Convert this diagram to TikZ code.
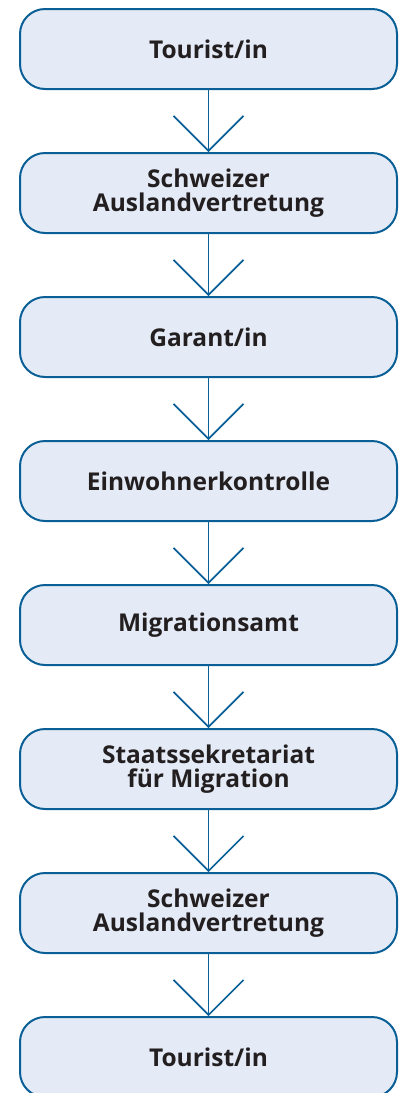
\documentclass[tikz,border=0pt]{standalone}
\usepackage{fontspec}
\setmainfont{Open Sans}
\usetikzlibrary{arrows.meta}
\definecolor{boxblue}{HTML}{0A5F96}
\definecolor{boxfill}{HTML}{E4EBF6}
\definecolor{boxtext}{HTML}{231F20}
\tikzset{
    stage/.style={draw=boxblue, fill=boxfill, line width=2pt, rounded corners=25pt,
        minimum width=377pt, minimum height=80pt, align=center, text=boxtext,
        font=\fontsize{24.5}{24}\selectfont\bfseries},
    flow/.style={draw=boxblue, line width=1.6pt, -{Straight Barb[length=35pt, width=70pt, line width=1.6pt]}}
}
\begin{document}
\begin{tikzpicture}[x=1pt, y=-1pt]
        \useasboundingbox (0, 0) rectangle (403, 1093);
        \node[stage] (tourist) at (208.5, 49) {Tourist/in};
        \node[stage] (vertretung) at (208.5, 193) {Schweizer\\Auslandvertretung};
        \node[stage] (garant) at (208.5, 337) {Garant/in};
        \node[stage] (kontrolle) at (208.5, 481) {Einwohnerkontrolle};
        \node[stage] (amt) at (208.5, 625) {Migrationsamt};
        \node[stage] (sem) at (208.5, 769) {Staatssekretariat\\für Migration};
        \node[stage] (vertretung2) at (208.5, 913) {Schweizer\\Auslandvertretung};
        \node[stage] (tourist2) at (208.5, 1057) {Tourist/in};
        \draw[flow] (tourist) -- (vertretung);
        \draw[flow] (vertretung) -- (garant);
        \draw[flow] (garant) -- (kontrolle);
        \draw[flow] (kontrolle) -- (amt);
        \draw[flow] (amt) -- (sem);
        \draw[flow] (sem) -- (vertretung2);
        \draw[flow] (vertretung2) -- (tourist2);
\end{tikzpicture}
\end{document}
